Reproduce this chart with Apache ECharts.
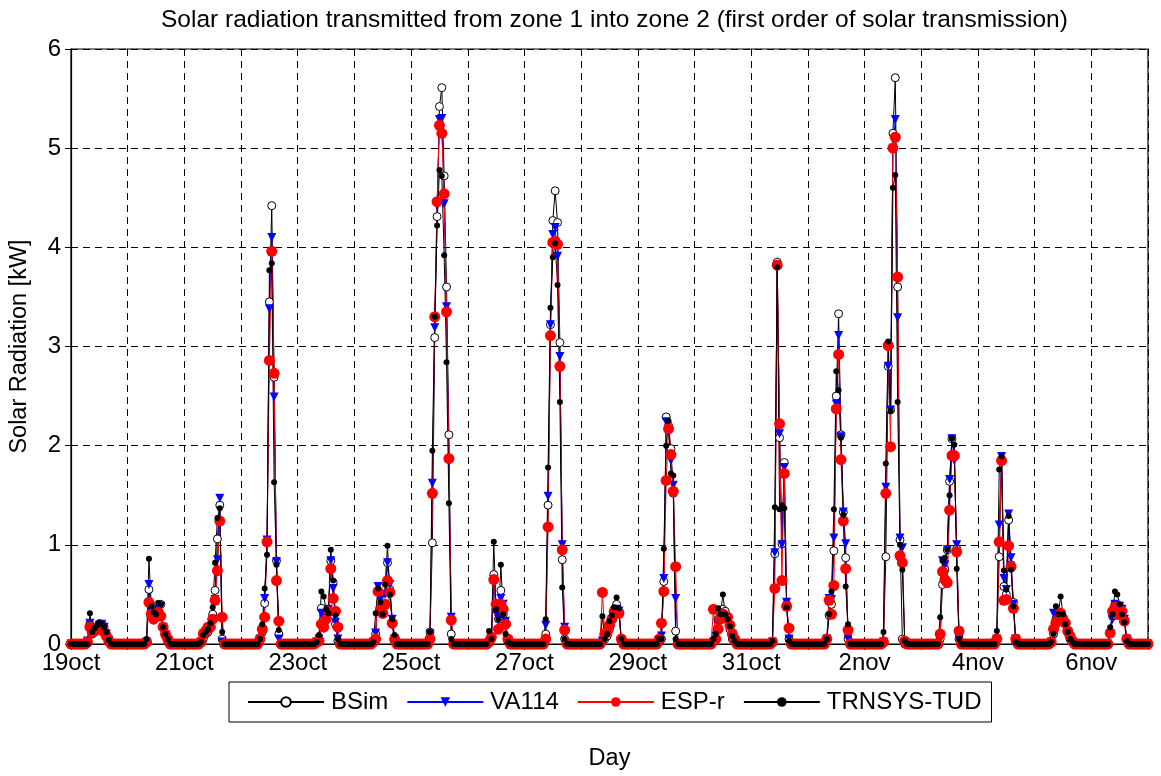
<!DOCTYPE html>
<html>
<head>
<meta charset="utf-8">
<script src="https://cdn.jsdelivr.net/npm/echarts@6/dist/echarts.min.js"></script>
<style>
html,body{margin:0;padding:0;background:#fff;}
#chart{width:1161px;height:776px;}
</style>
</head>
<body>
<div id="chart"></div>
<script>
// Tick labels on the x axis (every second day)
const dayLabels = ['19oct','21oct','23oct','25oct','27oct','29oct','31oct','2nov','4nov','6nov'];
const yTicks = [0,1,2,3,4,5,6];
// Each row = one day, hourly values [kW] for hours 7..18 (night hours are 0)
const HOUR0 = 7;
const bsim = [
 [0.03,0.2,0.1,0.13,0.16,0.2,0.2,0.17,0.1,0.04,0,0],
 [0,0.02,0.55,0.33,0.3,0.35,0.4,0.4,0.17,0.08,0.02,0],
 [0.02,0.05,0.1,0.12,0.17,0.3,0.54,1.06,1.4,0.05,0,0],
 [0,0.05,0.12,0.41,1.03,3.45,4.42,2.69,0.84,0.1,0,0],
 [0,0.02,0.05,0.36,0.25,0.3,0.35,0.84,0.62,0.2,0.03,0],
 [0,0.02,0.1,0.53,0.42,0.3,0.45,0.82,0.55,0.2,0.02,0],
 [0,0.12,1.02,3.09,4.31,5.42,5.61,4.72,3.6,2.11,0.1,0],
 [0,0,0.02,0.05,0.7,0.35,0.25,0.54,0.3,0.2,0.02,0],
 [0,0,0.1,1.4,3.22,4.27,4.57,4.25,3.04,0.85,0.05,0],
 [0,0,0.03,0.05,0.08,0.15,0.25,0.35,0.4,0.33,0.03,0],
 [0,0,0.02,0.05,0.63,2.29,2.2,1.97,1.52,0.13,0,0],
 [0,0.02,0.05,0.25,0.3,0.35,0.33,0.25,0.15,0.05,0.02,0],
 [0,0,0.02,0.91,3.85,2.08,1.01,1.83,0.4,0.05,0,0],
 [0,0.05,0.29,0.4,0.94,2.5,3.33,2.11,1.33,0.87,0.05,0],
 [0,0.02,0.88,2.8,2.36,5.15,5.71,3.6,1.05,0.05,0,0],
 [0,0.05,0.6,0.75,0.95,1.64,2.07,1.9,0.96,0.05,0,0],
 [0,0.05,0.88,1.85,0.58,0.5,1.25,0.8,0.42,0.02,0,0],
 [0.02,0.1,0.25,0.3,0.3,0.25,0.2,0.12,0.05,0.02,0,0],
 [0,0.11,0.28,0.4,0.35,0.38,0.32,0.25,0.05,0,0,0]
];
const va114 = [
 [0.03,0.21,0.1,0.14,0.16,0.19,0.2,0.17,0.1,0.04,0,0],
 [0,0.02,0.6,0.32,0.3,0.33,0.35,0.38,0.17,0.08,0.02,0],
 [0.02,0.1,0.12,0.15,0.15,0.25,0.45,0.85,1.47,0.02,0,0],
 [0,0.05,0.1,0.46,1.05,3.38,4.1,2.49,0.83,0.05,0,0],
 [0,0.02,0.05,0.31,0.25,0.28,0.35,0.84,0.56,0.22,0.05,0],
 [0,0.02,0.11,0.58,0.45,0.3,0.5,0.82,0.6,0.25,0.05,0],
 [0,0.1,1.62,3.19,4.42,5.29,5.3,4.44,3.4,1.84,0.27,0],
 [0,0,0.02,0.03,0.65,0.31,0.25,0.46,0.4,0.23,0.03,0],
 [0,0,0.19,1.49,3.22,4.13,4.2,3.91,2.9,1.0,0.17,0],
 [0,0,0.03,0.05,0.1,0.15,0.25,0.3,0.35,0.33,0.03,0],
 [0,0,0.02,0.08,0.66,2.24,2.15,1.85,1.6,0.46,0,0],
 [0,0.02,0.08,0.2,0.31,0.3,0.28,0.25,0.15,0.1,0.02,0],
 [0,0,0.02,0.92,3.82,2.12,1.0,1.78,0.42,0.05,0,0],
 [0,0.05,0.46,0.45,1.07,2.42,3.11,2.09,1.33,1.01,0.05,0],
 [0,0.02,1.58,2.8,2.36,5.0,5.29,3.29,1.07,0.97,0,0],
 [0,0.05,0.84,0.8,0.95,1.66,2.07,1.85,1.0,0.05,0,0],
 [0,0.05,1.2,1.89,0.66,0.55,1.31,0.87,0.4,0.05,0,0],
 [0.02,0.31,0.3,0.28,0.3,0.25,0.2,0.12,0.05,0.02,0,0],
 [0,0.1,0.25,0.4,0.35,0.38,0.35,0.25,0.05,0,0,0]
];
const espr = [
 [0.02,0.17,0.12,0.13,0.15,0.16,0.15,0.12,0.08,0.03,0,0],
 [0,0.02,0.42,0.3,0.25,0.3,0.32,0.28,0.17,0.1,0.05,0],
 [0.02,0.1,0.13,0.17,0.17,0.25,0.44,0.74,1.24,0.27,0,0],
 [0,0.05,0.15,0.27,1.03,2.86,3.96,2.73,0.64,0.23,0,0],
 [0,0.02,0.03,0.2,0.17,0.25,0.33,0.76,0.46,0.33,0.17,0],
 [0,0.02,0.05,0.53,0.35,0.31,0.4,0.64,0.52,0.21,0.05,0],
 [0,0.05,1.52,3.3,4.46,5.23,5.15,4.54,3.35,1.87,0.24,0],
 [0,0,0.02,0.07,0.65,0.4,0.15,0.4,0.35,0.2,0.05,0],
 [0,0,0.05,1.18,3.11,4.05,4.06,4.03,2.8,0.95,0.14,0],
 [0,0,0.52,0.1,0.12,0.19,0.25,0.33,0.33,0.31,0.05,0],
 [0,0,0.05,0.21,0.53,1.65,2.17,1.91,1.54,0.78,0,0],
 [0,0.35,0.05,0.15,0.25,0.3,0.27,0.27,0.19,0.1,0.05,0],
 [0,0,0.02,0.56,3.82,2.22,0.64,1.72,0.38,0.16,0,0],
 [0,0.05,0.44,0.3,0.59,2.37,2.92,1.86,1.24,0.76,0.14,0],
 [0,0.02,1.52,3.01,1.99,5.0,5.11,3.7,0.89,0.82,0.03,0],
 [0,0.1,0.73,0.65,0.62,1.35,1.9,1.9,0.93,0.13,0,0],
 [0,0.05,1.03,1.85,0.44,0.45,0.99,0.78,0.36,0.05,0,0],
 [0.02,0.15,0.21,0.25,0.31,0.25,0.21,0.13,0.08,0.03,0,0],
 [0,0.11,0.33,0.37,0.3,0.3,0.33,0.23,0.05,0,0,0]
];
const trnsys = [
 [0,0.31,0.12,0.16,0.19,0.22,0.2,0.17,0.12,0.04,0,0],
 [0,0.05,0.86,0.38,0.32,0.3,0.41,0.4,0.17,0.1,0.05,0],
 [0.02,0.09,0.12,0.15,0.21,0.37,0.82,1.27,1.37,0.12,0,0],
 [0,0.05,0.2,0.56,0.9,3.77,3.84,1.63,0.8,0.14,0,0],
 [0,0.02,0.09,0.53,0.48,0.35,0.31,0.95,0.64,0.29,0.05,0],
 [0,0.02,0.31,0.56,0.42,0.3,0.6,0.99,0.5,0.25,0.09,0],
 [0,0.12,1.95,3.3,4.22,4.78,4.72,3.92,2.84,1.42,0.05,0],
 [0,0,0.13,0.05,1.03,0.35,0.25,0.8,0.3,0.1,0.02,0],
 [0,0,0.25,1.78,3.39,3.9,4.04,3.62,2.44,0.57,0.05,0],
 [0,0,0.28,0.05,0.1,0.23,0.29,0.37,0.47,0.36,0.05,0],
 [0,0,0.05,0.05,0.96,2.0,2.25,1.72,1.7,0.05,0,0],
 [0,0.05,0.1,0.36,0.3,0.5,0.3,0.25,0.18,0.08,0.03,0],
 [0,0,0.03,1.38,3.8,1.36,1.4,1.37,0.37,0.03,0,0],
 [0,0.05,0.3,0.53,1.36,2.75,2.56,2.08,1.3,0.58,0.2,0],
 [0,0.12,1.82,3.05,2.35,4.6,4.73,2.44,1.0,0.75,0.03,0],
 [0,0.27,0.84,0.87,0.95,1.5,2.07,2.01,0.76,0.05,0,0],
 [0,0.13,1.76,1.89,0.74,0.55,1.29,0.75,0.38,0.02,0,0],
 [0.02,0.1,0.38,0.3,0.48,0.3,0.2,0.12,0.05,0.02,0,0],
 [0,0.17,0.3,0.53,0.5,0.4,0.3,0.22,0.03,0,0,0]
];
const NDAYS = 19;

function toHourly(rows) {
  const pts = [];
  for (let d = 0; d < NDAYS; d++) {
    for (let h = 0; h < 24; h++) {
      const i = h - HOUR0;
      const v = (i >= 0 && i < rows[d].length) ? rows[d][i] : 0;
      pts.push([d * 24 + h, v]);
    }
  }
  pts.push([NDAYS * 24, 0]);
  return pts;
}

const FONT = '"Liberation Sans", Arial, Helvetica, sans-serif';
const chart = echarts.init(document.getElementById('chart'), null, {renderer: 'canvas'});

const gridLine = {show: true, lineStyle: {color: '#000', width: 1, type: [7, 5]}};

chart.setOption({
  animation: false,
  backgroundColor: '#fff',
  textStyle: {fontFamily: FONT},
  title: {
    text: 'Solar radiation transmitted from zone 1 into zone 2 (first order of solar transmission)',
    left: 156, top: 3,
    textStyle: {fontFamily: FONT, fontSize: 24.5, fontWeight: 'normal', color: '#000'}
  },
  legend: {
    left: 229, top: 682,
    padding: [8, 10, 8, 18],
    itemWidth: 76, itemHeight: 12, itemGap: 18,
    borderColor: '#000', borderWidth: 1,
    textStyle: {fontFamily: FONT, fontSize: 24, color: '#000', padding: [0, 0, 0, 2]},
    data: ['BSim', 'VA114', 'ESP-r', 'TRNSYS-TUD']
  },
  grid: {left: 71, right: 13, top: 49, bottom: 130, show: true, borderColor: '#000', borderWidth: 1.2, containLabel: false},
  xAxis: [{
    type: 'value', min: 0, max: NDAYS * 24, interval: 24,
    name: 'Day', nameLocation: 'middle', nameGap: 103,
    nameTextStyle: {fontFamily: FONT, fontSize: 23.5, color: '#000'},
    axisLine: {show: true, lineStyle: {color: '#000', width: 1.2}},
    axisTick: {show: true, inside: true, length: 6, lineStyle: {color: '#000'}},
    axisLabel: {
      fontFamily: FONT, fontSize: 24, color: '#000', margin: 7,
      formatter: function (v) {
        const d = Math.round(v / 24);
        return (d % 2 === 0 && d / 2 < dayLabels.length) ? dayLabels[d / 2] : '';
      }
    },
    splitLine: gridLine
  }, {
    type: 'value', min: 0, max: NDAYS * 24, interval: 24, position: 'top',
    axisLine: {show: false},
    axisTick: {show: true, inside: true, length: 6, lineStyle: {color: '#000'}},
    axisLabel: {show: false}, splitLine: {show: false}
  }],
  yAxis: [{
    type: 'value', min: yTicks[0], max: yTicks[yTicks.length - 1], interval: 1,
    name: 'Solar Radiation [kW]', nameLocation: 'middle', nameGap: 39,
    nameTextStyle: {fontFamily: FONT, fontSize: 23.5, color: '#000'},
    axisLine: {show: true, lineStyle: {color: '#000', width: 1.2}},
    axisTick: {show: true, inside: true, length: 6, lineStyle: {color: '#000'}},
    axisLabel: {fontFamily: FONT, fontSize: 24, color: '#000', margin: 10},
    splitLine: gridLine
  }, {
    type: 'value', min: yTicks[0], max: yTicks[yTicks.length - 1], interval: 1, position: 'right',
    axisLine: {show: false},
    axisTick: {show: true, inside: true, length: 6, lineStyle: {color: '#000'}},
    axisLabel: {show: false}, splitLine: {show: false}
  }],
  series: [
    {
      name: 'BSim', type: 'line', data: toHourly(bsim), clip: false,
      symbol: 'circle', symbolSize: 8, showSymbol: true,
      lineStyle: {color: '#000', width: 1},
      itemStyle: {color: '#fff', borderColor: '#000', borderWidth: 1},
      emphasis: {disabled: true}
    },
    {
      name: 'VA114', type: 'line', data: toHourly(va114), clip: false,
      symbol: 'triangle', symbolRotate: 180, symbolSize: 9, showSymbol: true,
      lineStyle: {color: '#0000ff', width: 1},
      itemStyle: {color: '#0000ff', borderColor: '#0000ff', borderWidth: 0},
      emphasis: {disabled: true}
    },
    {
      name: 'ESP-r', type: 'line', data: toHourly(espr), clip: false,
      symbol: 'circle', symbolSize: 11, showSymbol: true,
      lineStyle: {color: '#ff0000', width: 1},
      itemStyle: {color: '#ff0000', borderWidth: 0},
      emphasis: {disabled: true}
    },
    {
      name: 'TRNSYS-TUD', type: 'line', data: toHourly(trnsys), clip: false,
      symbol: 'circle', symbolSize: 6, showSymbol: true,
      lineStyle: {color: '#000', width: 1},
      itemStyle: {color: '#000', borderWidth: 0},
      emphasis: {disabled: true}
    }
  ]
});
</script>
</body>
</html>
